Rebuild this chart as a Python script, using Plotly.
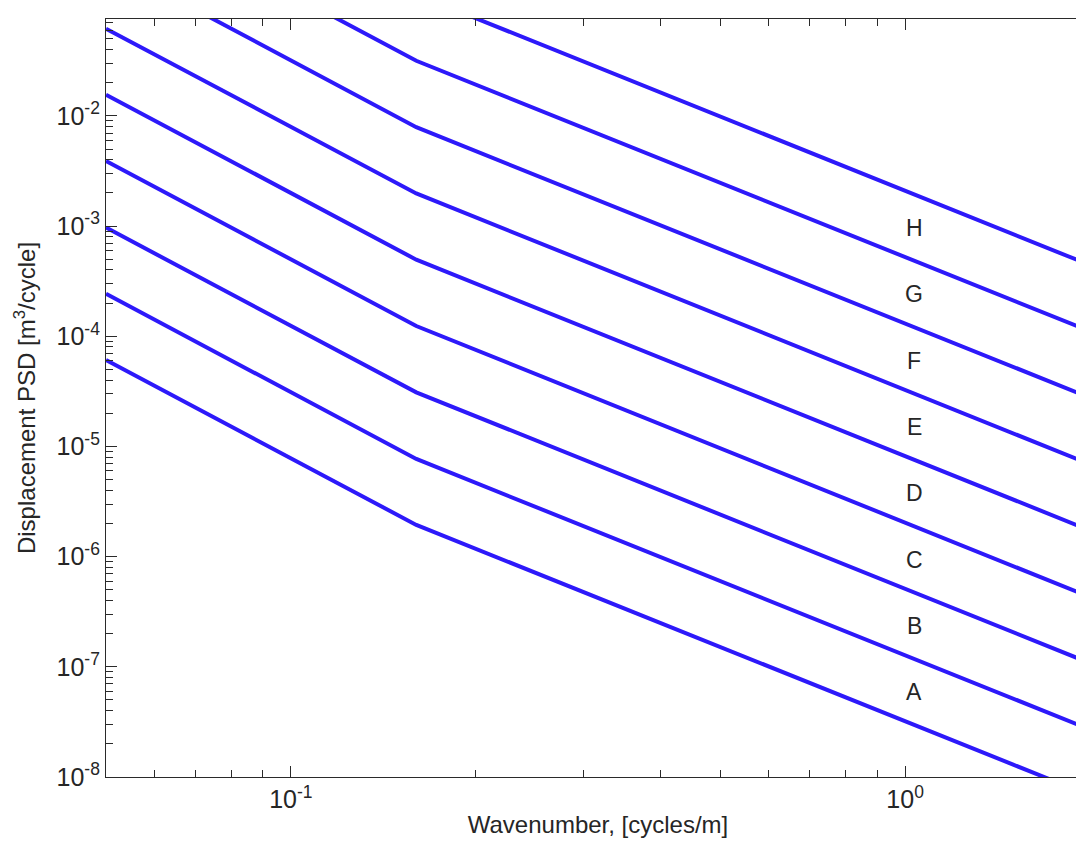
import math
import plotly.graph_objects as go

# Wavenumber breakpoints [cycles/m]
wavenumber = [0.05, 0.16, 2.0]

# Displacement PSD boundary lines [m^3/cycle] read at the breakpoints
line_1 = [6.1e-5, 1.94e-6, 6.8e-9]
line_2 = [2.43e-4, 7.7e-6, 2.7e-8]
line_3 = [9.7e-4, 3.1e-5, 1.08e-7]
line_4 = [3.9e-3, 1.24e-4, 4.3e-7]
line_5 = [1.56e-2, 4.96e-4, 1.73e-6]
line_6 = [6.2e-2, 1.98e-3, 6.9e-6]
line_7 = [0.25, 7.9e-3, 2.77e-5]
line_8 = [1.0, 3.17e-2, 1.11e-4]
line_9 = [4.0, 0.127, 4.43e-4]
lines = [line_1, line_2, line_3, line_4, line_5, line_6, line_7, line_8, line_9]

# Class labels and their positions
class_labels = ["A", "B", "C", "D", "E", "F", "G", "H"]
label_x = 1.035
label_y = [5.9e-8, 2.36e-7, 9.4e-7, 3.8e-6, 1.5e-5, 6.0e-5, 2.4e-4, 9.6e-4]

x_ticks = [0.1, 1.0]
x_ticktext = ["10<sup>-1</sup>", "10<sup>0</sup>"]
y_ticks = [1e-8, 1e-7, 1e-6, 1e-5, 1e-4, 1e-3, 1e-2]
y_ticktext = ["10<sup>-8</sup>", "10<sup>-7</sup>", "10<sup>-6</sup>", "10<sup>-5</sup>",
              "10<sup>-4</sup>", "10<sup>-3</sup>", "10<sup>-2</sup>"]

x_minor = [m * 10.0 ** e for e in (-2, -1, 0) for m in range(2, 10)]
y_minor = [m * 10.0 ** e for e in range(-8, 0) for m in range(2, 10)]

FONT = "Liberation Sans, Arial, sans-serif"
LINE_COLOR = "rgb(45,25,250)"
TEXT_COLOR = "#262626"
AXIS_COLOR = "#2a2a2a"

fig = go.Figure()
for vals in lines:
    fig.add_trace(go.Scatter(x=wavenumber, y=vals, mode="lines",
                             line=dict(color=LINE_COLOR, width=4),
                             showlegend=False, hoverinfo="skip"))

for lab, ly in zip(class_labels, label_y):
    fig.add_annotation(x=math.log10(label_x), y=math.log10(ly),
                       text=lab, showarrow=False,
                       font=dict(family=FONT, size=23, color=TEXT_COLOR))

axis_common = dict(
    type="log",
    showgrid=False,
    zeroline=False,
    showline=True,
    linecolor=AXIS_COLOR,
    linewidth=1.2,
    mirror="allticks",
    ticks="inside",
    ticklen=11,
    tickwidth=1.2,
    tickcolor=AXIS_COLOR,
    tickfont=dict(family=FONT, size=25, color=TEXT_COLOR),
)

fig.update_xaxes(
    **axis_common,
    range=[math.log10(0.05), math.log10(2.0)],
    tickmode="array", tickvals=x_ticks, ticktext=x_ticktext,
    minor=dict(tickmode="array", tickvals=x_minor, ticks="inside", ticklen=7,
               tickcolor=AXIS_COLOR, showgrid=False),
    title=dict(text="Wavenumber, [cycles/m]", standoff=4,
               font=dict(family=FONT, size=24, color=TEXT_COLOR)),
)
fig.update_yaxes(
    **axis_common,
    range=[-8, -1.12],
    tickmode="array", tickvals=y_ticks, ticktext=y_ticktext,
    minor=dict(tickmode="array", tickvals=y_minor, ticks="inside", ticklen=7,
               tickcolor=AXIS_COLOR, showgrid=False),
    title=dict(text="Displacement PSD [m<sup>3</sup>/cycle]", standoff=14,
               font=dict(family=FONT, size=24, color=TEXT_COLOR)),
)

fig.update_layout(
    width=1084, height=843,
    margin=dict(l=98, r=2, t=11, b=74, autoexpand=False),
    paper_bgcolor="white",
    plot_bgcolor="white",
    font=dict(family=FONT, color=TEXT_COLOR),
)

fig.write_html("out.html")
